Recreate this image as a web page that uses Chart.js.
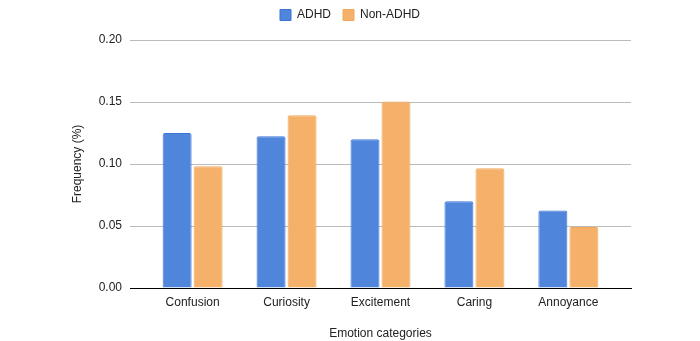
<!DOCTYPE html>
<html>
<head>
<meta charset="utf-8">
<script src="https://cdn.jsdelivr.net/npm/chart.js@4/dist/chart.umd.min.js"></script>
<style>
  html, body { margin: 0; padding: 0; background: #fff; }
  #wrap { width: 700px; height: 341px; }
</style>
</head>
<body>
<div id="wrap"><canvas id="myChart"></canvas></div>
<script>
// categories and values
const categories = ['Confusion', 'Curiosity', 'Excitement', 'Caring', 'Annoyance'];
const adhd = [0.125, 0.1223, 0.1199, 0.0699, 0.0626];
const nonAdhd = [0.0981, 0.1393, 0.1505, 0.0965, 0.0492];
const yTicks = [0, 0.05, 0.10, 0.15, 0.20];

Chart.defaults.font.family = "'Liberation Sans', Arial, sans-serif";
Chart.defaults.font.size = 12;
Chart.defaults.color = '#222';

// x is a linear scale so the outer gaps can be wider than half a category
const data = {
  datasets: [{
    label: 'ADHD',
    data: adhd.map((v, i) => ({ x: i, y: v })),
    backgroundColor: '#4f86dc',
    borderColor: '#3b74d6',
    borderWidth: 1,
    borderRadius: 2,
    borderSkipped: 'bottom'
  }, {
    label: 'Non-ADHD',
    data: nonAdhd.map((v, i) => ({ x: i, y: v })),
    backgroundColor: '#f5b16a',
    borderColor: '#f2a85a',
    borderWidth: 1,
    borderRadius: 2,
    borderSkipped: 'bottom'
  }]
};

// make the legend box a fixed height
const legendHeight = {
  id: 'legendHeight',
  beforeInit(chart) {
    const fit = chart.legend.fit;
    chart.legend.fit = function () {
      fit.bind(chart.legend)();
      this.height = 43;
    };
  }
};

const options = {
  responsive: true,
  maintainAspectRatio: false,
  animation: false,
  layout: { padding: { left: 0, right: 0, top: -3, bottom: 0 } },
  datasets: { bar: { categoryPercentage: 0.66, barPercentage: 0.935 } },
  plugins: {
    tooltip: { enabled: false },
    legend: {
      position: 'top',
      labels: { boxWidth: 11, boxHeight: 11, padding: 12, color: '#222' }
    }
  },
  scales: {
    x: {
      type: 'linear',
      offset: false,
      min: -0.6667,
      max: 4.6667,
      afterBuildTicks: (s) => { s.ticks = categories.map((c, i) => ({ value: i })); },
      grid: { display: false, drawTicks: false },
      border: { color: '#000', width: 1 },
      ticks: { padding: 7, color: '#222', autoSkip: false, maxRotation: 0, callback: (v) => categories[v] },
      title: { display: true, text: 'Emotion categories', color: '#222', padding: { top: 0, bottom: 0 } },
      afterFit: (s) => { s.height = 53; }
    },
    y: {
      min: 0,
      max: 0.2,
      afterBuildTicks: (s) => { s.ticks = yTicks.map(v => ({ value: v })); },
      grid: { color: '#bbb', drawTicks: false },
      border: { display: false },
      ticks: { padding: 8, color: '#222', callback: (v) => v.toFixed(2) },
      title: { display: true, text: 'Frequency (%)', color: '#222', padding: { top: 70, bottom: 0 } },
      afterFit: (s) => { s.width = 130; }
    },
    // empty axis on the right only to keep space there
    yRight: {
      position: 'right',
      display: true,
      grid: { display: false, drawTicks: false },
      border: { display: false },
      ticks: { display: false },
      afterFit: (s) => { s.width = 69; }
    }
  }
};

const chart = new Chart(document.getElementById('myChart'), {
  type: 'bar',
  data: data,
  options: options,
  plugins: [legendHeight]
});
</script>
</body>
</html>
